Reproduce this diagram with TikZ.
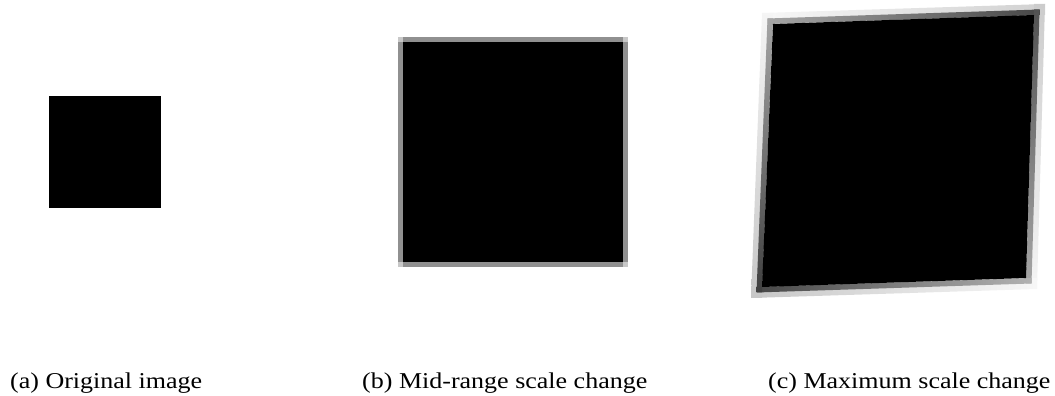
\documentclass[tikz,border=0pt]{standalone}
\usepackage{fontspec}
\setmainfont{Liberation Serif}
\usetikzlibrary{calc}
\definecolor{bgray}{HTML}{909090}
\definecolor{cgray}{HTML}{C8C8C8}
\tikzset{
  caption/.style={anchor=base west,inner sep=0pt,font=\fontsize{26}{30}\selectfont},
  sq/.style={fill=black,draw=none}
}
\newcommand{\captext}[1]{\scalebox{1}[0.87]{#1}}
\begin{document}
\begin{tikzpicture}[x=1pt,y=1pt]
\useasboundingbox (0,0) rectangle (1055,396);
% (a) original
\fill[black] (49,188) rectangle (161,300);
% (b) mid-range
\fill[cgray] (398,129.3) rectangle (627.7,359);
\fill[bgray] (402.7,354) rectangle (623,359);
\fill[bgray] (402.7,129.3) rectangle (623,134);
\fill[bgray] (398,134) rectangle (402.7,354);
\fill[bgray] (623,134) rectangle (627.7,354);
\fill[black] (402.7,134) rectangle (623,354);
% (c) maximum
\coordinate (TL) at (773,372);
\coordinate (TR) at (1034,381);
\coordinate (BR) at (1026,118);
\coordinate (BL) at (762,109);
% outer bands
\shade[left color=black!3,right color=black!18] ($(TL)+(-11,0)$) -- ($(TR)+(11,0)$) -- ($(TR)+(11,11)$) -- ($(TL)+(-11,11)$) -- cycle;
\shade[top color=black!20,bottom color=black!4] ($(TR)+(0,11)$) -- ($(BR)+(0,-11)$) -- ($(BR)+(11,-11)$) -- ($(TR)+(11,11)$) -- cycle;
\shade[left color=black!22,right color=black!3] ($(BL)+(-11,0)$) -- ($(BR)+(11,0)$) -- ($(BR)+(11,-11)$) -- ($(BL)+(-11,-11)$) -- cycle;
\shade[top color=black!4,bottom color=black!22] ($(TL)+(0,11)$) -- ($(BL)+(0,-11)$) -- ($(BL)+(-11,-11)$) -- ($(TL)+(-11,11)$) -- cycle;
% inner bands
\shade[left color=black!35,right color=black!72] ($(TL)+(-5.5,0)$) -- ($(TR)+(5.5,0)$) -- ($(TR)+(5.5,5.5)$) -- ($(TL)+(-5.5,5.5)$) -- cycle;
\shade[top color=black!68,bottom color=black!35] ($(TR)+(0,5.5)$) -- ($(BR)+(0,-5.5)$) -- ($(BR)+(5.5,-5.5)$) -- ($(TR)+(5.5,5.5)$) -- cycle;
\shade[left color=black!72,right color=black!30] ($(BL)+(-5.5,0)$) -- ($(BR)+(5.5,0)$) -- ($(BR)+(5.5,-5.5)$) -- ($(BL)+(-5.5,-5.5)$) -- cycle;
\shade[top color=black!35,bottom color=black!75] ($(TL)+(0,5.5)$) -- ($(BL)+(0,-5.5)$) -- ($(BL)+(-5.5,-5.5)$) -- ($(TL)+(-5.5,5.5)$) -- cycle;
\fill[black] (TL) -- (TR) -- (BR) -- (BL) -- cycle;
% captions
\node[caption] (capa) at (10,7) {\captext{(a) Original image}};
\node[caption] (capb) at (362,7) {\captext{(b) Mid-range scale change}};
\node[caption] (capc) at (768,7) {\captext{(c) Maximum scale change}};
\end{tikzpicture}
\end{document}
